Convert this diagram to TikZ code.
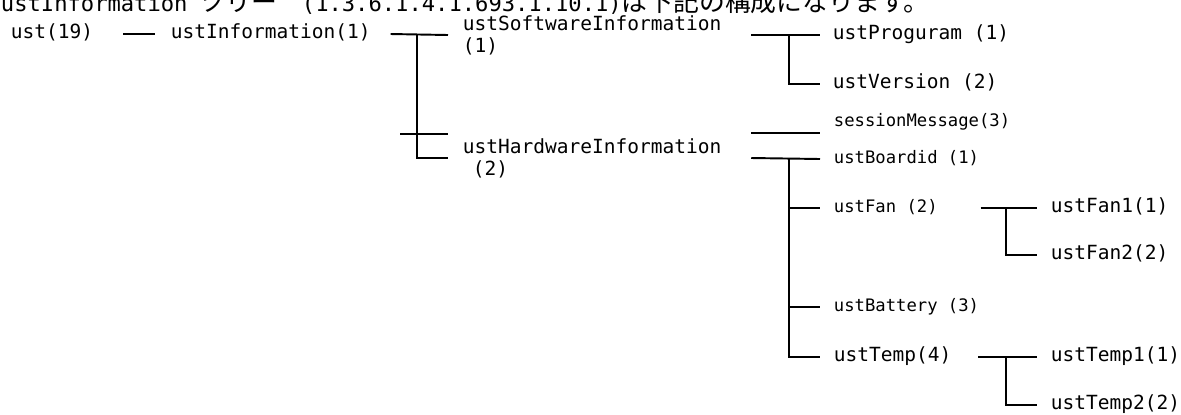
\documentclass[tikz,border=0pt]{standalone}
\usepackage{fontspec}
\setmonofont{DejaVu Sans Mono}
\newfontfamily\cjkfont{Noto Sans CJK JP}
\usetikzlibrary{calc}

\begin{document}
\begin{tikzpicture}[x=0.02cm, y=-0.02cm, line width=1.1pt,
  oid/.style={anchor=west, inner sep=0pt, text height=0.75em, text depth=0.2em,
    font=\ttfamily\fontsize{11.1}{12.8}\selectfont},
  leaf/.style={oid, font=\ttfamily\fontsize{9.8}{12}\selectfont},
  grp/.style={anchor=west, inner sep=0pt, align=left,
    font=\ttfamily\fontsize{11.1}{12.6}\selectfont}]
\useasboundingbox (0,0) rectangle (1181,414);

% heading, cut at the top edge
\node[anchor=base west, inner sep=0pt, font=\ttfamily\fontsize{12.6}{14}\selectfont] (title) at (0,11)
  {ustInformation\hspace*{7pt}{\cjkfont\fontsize{14.7}{16}\selectfont ツリー}\hspace*{14pt}(1.3.6.1.4.1.693.1.10.1){\cjkfont\fontsize{14.7}{16}\selectfont は下記の構成になります。}};

% tree
\node[oid] (ust) at (10,34) {ust(19)};
\node[oid] (info) at (170,34) {ustInformation(1)};
\node[grp] (soft) at (462,35) {ustSoftwareInformation\\(1)};
\node[grp] (hard) at (462,158) {ustHardwareInformation\\\hspace*{5.7pt}(2)};
\node[oid] (prog) at (832,35) {ustProguram (1)};
\node[oid] (ver) at (832,84) {ustVersion (2)};
\node[leaf] (sess) at (833,122) {sessionMessage(3)};
\node[leaf] (board) at (833,159) {ustBoardid (1)};
\node[leaf] (fan) at (833,208) {ustFan (2)};
\node[leaf] (batt) at (833,307) {ustBattery (3)};
\node[oid] (temp) at (833,357) {ustTemp(4)};
\node[oid] (fan1) at (1050,208) {ustFan1(1)};
\node[oid] (fan2) at (1050,255) {ustFan2(2)};
\node[oid] (temp1) at (1050,357) {ustTemp1(1)};
\node[oid] (temp2) at (1050,405) {ustTemp2(2)};

\coordinate (infoJ) at (417,35);
\coordinate (hwStub) at (400,134);
\coordinate (swJ) at (789,35);
\coordinate (hwJ) at (789,158);
\coordinate (fanJ) at (1006,208);
\coordinate (tempJ) at (1006,357);

\draw ($(ust.east)+(29,0)$) -- ($(info.west)+(-15,0)$);
\draw ($(info.east)+(19,0)$) -- ($(soft.west)+(-14,0)$);
\draw (infoJ) |- ($(hard.west)+(-14,0)$);
\draw (hwStub) -- ++(48,0);

\draw ($(soft.east)+(29,0)$) -- ($(prog.west)+(-12,0)$);
\draw (swJ) |- ($(ver.west)+(-12,0)$);

\draw ($(hard.east)+(29,-25)$) -- ($(sess.west)+(-13,11)$);
\draw ($(hard.east)+(29,0)$) -- ($(board.west)+(-13,0)$);
\draw (hwJ) |- ($(fan.west)+(-13,0)$);
\draw (hwJ) |- ($(batt.west)+(-13,0)$);
\draw (hwJ) |- ($(temp.west)+(-13,0)$);

\draw ($(fan.east)+(42,0)$) -- ($(fan1.west)+(-13,0)$);
\draw (fanJ) |- ($(fan2.west)+(-13,0)$);
\draw ($(temp.east)+(26,0)$) -- ($(temp1.west)+(-13,0)$);
\draw (tempJ) |- ($(temp2.west)+(-13,0)$);
\end{tikzpicture}
\end{document}
